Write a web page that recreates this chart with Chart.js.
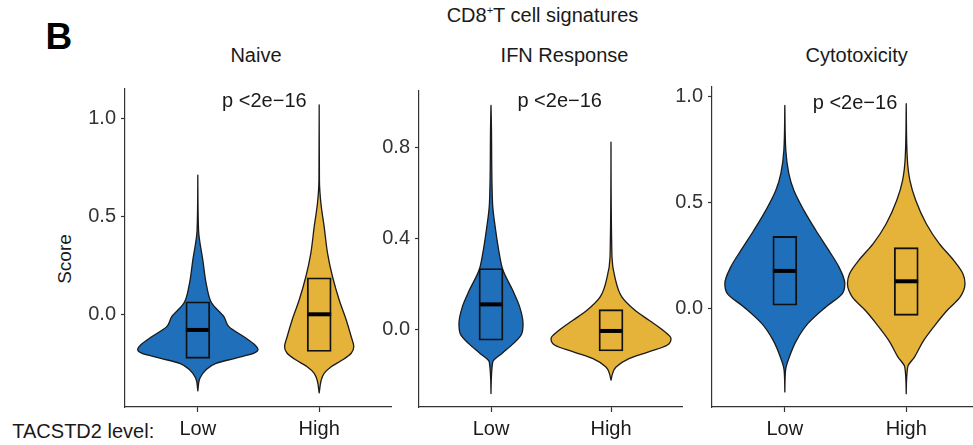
<!DOCTYPE html>
<html>
<head>
<meta charset="utf-8">
<script src="https://cdn.jsdelivr.net/npm/chart.js@4/dist/chart.umd.min.js"></script>
<style>
  html, body { margin: 0; padding: 0; background: #fff; overflow: hidden; width: 973px; height: 445px; }
  body { position: relative; font-family: "Liberation Sans", Arial, sans-serif; color: #1a1a1a; }
  .txt { position: absolute; white-space: nowrap; line-height: 1; }
  canvas { position: absolute; top: 0; }
</style>
</head>
<body>
<div class="txt" style="left:45.6px; top:18px; font-size:37px; font-weight:bold; color:#000;">B</div>
<div class="txt" id="mainTitle" style="top:5.4px; font-size:20px; transform:translateX(-50%); left:542.5px;"></div>
<div class="txt" id="yTitle" style="left:64px; top:259px; font-size:19px; transform:translate(-50%,-50%) rotate(-90deg);"></div>
<div class="txt" id="xTitle" style="left:12.3px; top:420.8px; font-size:20px;"></div>
<div class="txt panelTitle" style="left:256px; top:45.4px; font-size:20px; transform:translateX(-50%);"></div>
<div class="txt panelTitle" style="left:564.5px; top:45.4px; font-size:20px; transform:translateX(-50%);"></div>
<div class="txt panelTitle" style="left:856.7px; top:45.4px; font-size:20px; transform:translateX(-50%);"></div>

<canvas id="c0"></canvas>
<canvas id="c1"></canvas>
<canvas id="c2"></canvas>

<script>
// ---- labels ----
const groups = ['Low', 'High'];
const panelTitles = ['Naive', 'IFN Response', 'Cytotoxicity'];
const pValueText = 'p <2e\u221216';
const yAxisTitle = 'Score';
const groupAxisTitle = 'TACSTD2 level:';

// ---- y tick values for each panel ----
const naiveTicks = [0.0, 0.5, 1.0];
const ifnTicks = [0.0, 0.4, 0.8];
const cytoTicks = [0.0, 0.5, 1.0];

// ---- box statistics: [lower quartile, median, upper quartile] ----
const naiveLowBox = [-0.225, -0.080, 0.064];
const naiveHighBox = [-0.190, 0.000, 0.187];
const ifnLowBox = [-0.047, 0.111, 0.269];
const ifnHighBox = [-0.094, -0.006, 0.088];
const cytoLowBox = [0.016, 0.178, 0.341];
const cytoHighBox = [-0.032, 0.129, 0.288];

// ---- violin outlines: score levels (top to bottom) and density half-width ----
const naiveLowScore = [0.712, 0.431, 0.278, 0.141, 0.056, -0.012, -0.063, -0.115, -0.157, -0.179, -0.199, -0.225, -0.251, -0.285, -0.327, -0.392];
const naiveLowDensity = [0, 0.006, 0.041, 0.074, 0.116, 0.215, 0.256, 0.380, 0.471, 0.496, 0.463, 0.306, 0.149, 0.066, 0.017, 0];
const naiveHighScore = [1.071, 0.687, 0.569, 0.448, 0.312, 0.192, 0.073, -0.029, -0.115, -0.166, -0.199, -0.234, -0.268, -0.302, -0.336, -0.402];
const naiveHighDensity = [0, 0.002, 0.014, 0.041, 0.069, 0.110, 0.165, 0.223, 0.264, 0.285, 0.264, 0.190, 0.099, 0.041, 0.017, 0];

const ifnLowScore = [0.988, 0.878, 0.555, 0.437, 0.335, 0.261, 0.173, 0.100, 0.026, -0.018, -0.062, -0.106, -0.143, -0.282];
const ifnLowDensity = [0, 0.004, 0.013, 0.039, 0.069, 0.100, 0.181, 0.239, 0.267, 0.256, 0.186, 0.089, 0.014, 0];
const ifnHighScore = [0.826, 0.320, 0.232, 0.144, 0.085, 0.041, -0.003, -0.040, -0.069, -0.099, -0.128, -0.165, -0.194, -0.223];
const ifnHighDensity = [0, 0.008, 0.032, 0.090, 0.200, 0.317, 0.433, 0.500, 0.467, 0.308, 0.150, 0.042, 0.013, 0];

const cytoLowScore = [0.960, 0.748, 0.638, 0.559, 0.464, 0.370, 0.275, 0.197, 0.118, 0.071, 0.008, -0.071, -0.150, -0.229, -0.291, -0.394];
const cytoLowDensity = [0, 0.008, 0.033, 0.074, 0.157, 0.255, 0.362, 0.445, 0.494, 0.474, 0.338, 0.189, 0.096, 0.037, 0.006, 0];
const cytoHighScore = [0.968, 0.716, 0.606, 0.512, 0.401, 0.307, 0.228, 0.165, 0.118, 0.055, -0.008, -0.071, -0.150, -0.229, -0.276, -0.402];
const cytoHighDensity = [0, 0.008, 0.030, 0.078, 0.165, 0.272, 0.391, 0.467, 0.484, 0.445, 0.338, 0.247, 0.144, 0.068, 0.012, 0];

// ---- styling ----
const BLUE = '#1f6fba';
const GOLD = '#e5b23a';
const FONT = "'Liberation Sans', Arial, sans-serif";
Chart.defaults.font.family = FONT;

document.getElementById('mainTitle').innerHTML = 'CD8<span style="font-size:11px; position:relative; top:-8px;">+</span>T cell signatures';
document.getElementById('yTitle').textContent = yAxisTitle;
document.getElementById('xTitle').textContent = groupAxisTitle;
document.querySelectorAll('.panelTitle').forEach((el, i) => { el.textContent = panelTitles[i]; });

const panels = [
  { ticks: naiveTicks, yMin: -0.474, yMax: 1.152, xMax: 2.6,
    area: { left: 125, right: 392, top: 89, bottom: 407 }, pX: 1.2, pY: 1.062,
    violins: [
      { score: naiveLowScore, dens: naiveLowDensity, box: naiveLowBox, color: BLUE },
      { score: naiveHighScore, dens: naiveHighDensity, box: naiveHighBox, color: GOLD } ] },
  { ticks: ifnTicks, yMin: -0.341, yMax: 1.051, xMax: 2.6,
    area: { left: 419, right: 683, top: 91, bottom: 407 }, pX: 1.22, pY: 0.981,
    violins: [
      { score: ifnLowScore, dens: ifnLowDensity, box: ifnLowBox, color: BLUE },
      { score: ifnHighScore, dens: ifnHighDensity, box: ifnHighBox, color: GOLD } ] },
  { ticks: cytoTicks, yMin: -0.465, yMax: 1.047, xMax: 2.55,
    area: { left: 712, right: 973, top: 87, bottom: 407 }, pX: 1.23, pY: 0.945,
    violins: [
      { score: cytoLowScore, dens: cytoLowDensity, box: cytoLowBox, color: BLUE },
      { score: cytoHighScore, dens: cytoHighDensity, box: cytoHighBox, color: GOLD } ] }
];

// Fritsch–Carlson tangents so the outline stays smooth without overshoot
function monotoneTangents(xs, ys) {
  const n = xs.length, d = [], m = new Array(n).fill(0);
  for (let i = 0; i < n - 1; i++) d.push((ys[i + 1] - ys[i]) / (xs[i + 1] - xs[i]));
  m[0] = d[0]; m[n - 1] = d[n - 2];
  for (let i = 1; i < n - 1; i++) m[i] = d[i - 1] * d[i] <= 0 ? 0 : (d[i - 1] + d[i]) / 2;
  for (let i = 0; i < n - 1; i++) {
    if (d[i] === 0) { m[i] = 0; m[i + 1] = 0; continue; }
    const a = m[i] / d[i], b = m[i + 1] / d[i], s = a * a + b * b;
    if (s > 9) { const t = 3 / Math.sqrt(s); m[i] = t * a * d[i]; m[i + 1] = t * b * d[i]; }
  }
  return m;
}

function violinPlugin(panel) {
  return {
    id: 'violins',
    beforeDatasetsDraw(chart) {
      const { ctx } = chart;
      const x = chart.scales.x, y = chart.scales.y;
      panel.violins.forEach((v, i) => {
        const cx = x.getPixelForValue(i + 1);
        const ys = v.score.map(s => y.getPixelForValue(s));
        const ws = v.dens.map(dv => x.getPixelForValue(i + 1 + dv) - cx);
        const m = monotoneTangents(ys, ws);
        const n = ys.length;
        ctx.save();
        ctx.beginPath();
        ctx.moveTo(cx + ws[0], ys[0]);
        for (let k = 0; k < n - 1; k++) {
          const dy = ys[k + 1] - ys[k];
          ctx.bezierCurveTo(cx + ws[k] + m[k] * dy / 3, ys[k] + dy / 3,
                            cx + ws[k + 1] - m[k + 1] * dy / 3, ys[k + 1] - dy / 3,
                            cx + ws[k + 1], ys[k + 1]);
        }
        for (let k = n - 1; k > 0; k--) {
          const dy = ys[k] - ys[k - 1];
          ctx.bezierCurveTo(cx - ws[k] + m[k] * dy / 3, ys[k] - dy / 3,
                            cx - ws[k - 1] - m[k - 1] * dy / 3, ys[k - 1] + dy / 3,
                            cx - ws[k - 1], ys[k - 1]);
        }
        ctx.closePath();
        ctx.fillStyle = v.color;
        ctx.fill();
        ctx.lineWidth = 1.3;
        ctx.lineJoin = 'round';
        ctx.strokeStyle = '#1a1a1a';
        ctx.stroke();
        ctx.restore();
      });
    },
    afterDraw(chart) {
      const { ctx } = chart;
      ctx.save();
      ctx.font = '20px ' + FONT;
      ctx.fillStyle = '#1a1a1a';
      ctx.textAlign = 'left';
      ctx.textBaseline = 'alphabetic';
      ctx.fillText(pValueText, chart.scales.x.getPixelForValue(panel.pX), chart.scales.y.getPixelForValue(panel.pY));
      ctx.restore();
    }
  };
}

const Y_AXIS_W = 60;
const H = 445;

panels.forEach((p, idx) => {
  const canvas = document.getElementById('c' + idx);
  const left = p.area.left - Y_AXIS_W;
  const width = p.area.right - left;
  canvas.width = width; canvas.height = H;
  canvas.style.left = left + 'px';
  canvas.style.width = width + 'px';
  canvas.style.height = H + 'px';

  new Chart(canvas, {
    type: 'bar',
    data: {
      datasets: [
        {
          type: 'bar',
          data: p.violins.map((v, i) => ({ x: i + 1, y: [v.box[0], v.box[2]] })),
          backgroundColor: 'rgba(0,0,0,0)',
          borderColor: '#111',
          borderWidth: 1.2,
          borderSkipped: false,
          barThickness: 24,
          grouped: false
        },
        {
          type: 'scatter',
          data: p.violins.map((v, i) => ({ x: i + 1, y: v.box[1] })),
          pointStyle: 'line',
          pointRadius: 12,
          pointBorderWidth: 4,
          pointBorderColor: '#000',
          pointBackgroundColor: '#000'
        }
      ]
    },
    options: {
      responsive: false,
      animation: false,
      events: [],
      layout: { autoPadding: false, padding: { top: p.area.top, left: 0, right: 0, bottom: 0 } },
      plugins: { legend: { display: false }, tooltip: { enabled: false }, title: { display: false } },
      scales: {
        x: {
          type: 'linear',
          min: 0.4,
          max: p.xMax,
          offset: false,
          afterBuildTicks: (s) => { s.ticks = groups.map((g, i) => ({ value: i + 1 })); },
          afterFit: (s) => { s.height = H - p.area.bottom; s.paddingLeft = 0; s.paddingRight = 0; },
          ticks: {
            callback: (val, i) => groups[i],
            font: { size: 20 },
            color: '#1a1a1a',
            padding: 5,
            maxRotation: 0,
            autoSkip: false
          },
          grid: { display: true, offset: false, drawOnChartArea: false, drawTicks: true, tickLength: 5, tickColor: '#333', tickWidth: 1.2 },
          border: { display: true, color: '#333', width: 1.2 }
        },
        y: {
          type: 'linear',
          min: p.yMin,
          max: p.yMax,
          afterBuildTicks: (s) => { s.ticks = p.ticks.map(v => ({ value: v })); },
          afterFit: (s) => { s.width = Y_AXIS_W; },
          ticks: {
            callback: (val) => Number(val).toFixed(1),
            font: { size: 20 },
            color: '#333',
            padding: 5,
            autoSkip: false
          },
          grid: { display: true, drawOnChartArea: false, drawTicks: true, tickLength: 4, tickColor: '#333', tickWidth: 1.2 },
          border: { display: true, color: '#333', width: 1.2 }
        }
      }
    },
    plugins: [violinPlugin(p)]
  });
});
</script>
</body>
</html>
